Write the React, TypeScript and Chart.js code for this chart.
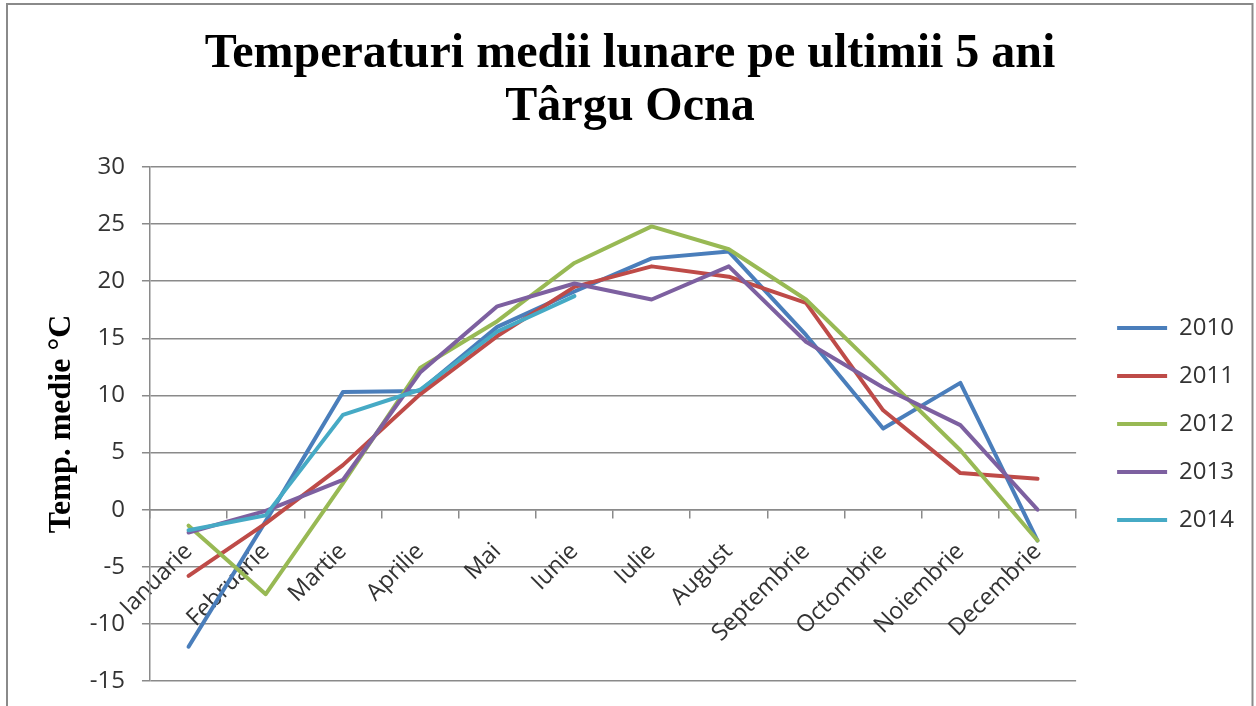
import React, { useEffect, useRef } from 'react';
import { Chart, registerables } from 'chart.js';

Chart.register(...registerables);

const months = ['Ianuarie', 'Februarie', 'Martie', 'Aprilie', 'Mai', 'Iunie', 'Iulie', 'August', 'Septembrie', 'Octombrie', 'Noiembrie', 'Decembrie'];
const seriesLabels = ['2010', '2011', '2012', '2013', '2014'];
const t2010 = [-12.0, -1.0, 10.3, 10.4, 16.0, 19.1, 22.0, 22.6, 15.3, 7.1, 11.1, -2.7];
const t2011 = [-5.8, -1.2, 3.9, 10.1, 15.2, 19.5, 21.3, 20.4, 18.1, 8.7, 3.2, 2.7];
const t2012 = [-1.4, -7.4, 2.3, 12.4, 16.5, 21.6, 24.8, 22.8, 18.4, 11.8, 5.2, -2.7];
const t2013 = [-2.0, -0.1, 2.6, 12.0, 17.8, 19.8, 18.4, 21.3, 14.7, 10.7, 7.4, 0.0];
const t2014 = [-1.8, -0.5, 8.3, 10.5, 15.6, 18.7, null, null, null, null, null, null];
const seriesColors = ['#4a7ebb', '#be4b48', '#98b954', '#7d60a0', '#46aac5'];
const titleLines = ['Temperaturi medii lunare pe ultimii 5 ani', 'Târgu Ocna'];
const yAxisTitle = 'Temp. medie °C';
const yMin = -15;
const yMax = 30;
const yStep = 5;

const SERIF = '"Liberation Serif", "Times New Roman", serif';
const SANS = '"Open Sans", "Liberation Sans", sans-serif';
const GRID = '#8a8a8a';
const TEXT = '#333333';

const framePlugin = {
  id: 'frame',
  beforeDraw(chart: any) {
    const ctx = chart.ctx;
    ctx.save();
    ctx.fillStyle = '#ffffff';
    ctx.fillRect(0, 0, chart.width, chart.height);
    ctx.strokeStyle = GRID;
    ctx.lineWidth = 2;
    ctx.strokeRect(7, 4, 1245.5, 730);
    ctx.restore();
  },
};

export default function App() {
  const ref = useRef<HTMLCanvasElement | null>(null);

  useEffect(() => {
    if (!ref.current) return;
    const allSeries = [t2010, t2011, t2012, t2013, t2014];
    const chart = new Chart(ref.current, {
      type: 'line',
      data: {
        labels: months,
        datasets: allSeries.map((d, i) => ({
          label: seriesLabels[i],
          data: d,
          borderColor: seriesColors[i],
          backgroundColor: seriesColors[i],
          borderWidth: 4,
          pointRadius: 0,
          pointHoverRadius: 0,
          tension: 0,
          borderJoinStyle: 'round' as const,
          borderCapStyle: 'round' as const,
          yAxisID: 'y',
          order: allSeries.length - i,
        })),
      },
      options: {
        responsive: false,
        animation: false,
        events: [],
        layout: { padding: { left: 16, right: 12, top: 0, bottom: 25 } },
        plugins: {
          title: {
            display: true,
            text: titleLines,
            color: '#000000',
            font: { family: SERIF, size: 48, weight: 'bold', lineHeight: 1.1 },
            padding: { top: 28, bottom: 33.4 },
          },
          legend: {
            display: true,
            position: 'right',
            align: 'center',
            fullSize: false,
            labels: {
              boxWidth: 50,
              boxHeight: 4,
              padding: 24,
              color: TEXT,
              font: { family: SANS, size: 24 },
              sort: (a: any, b: any) => a.datasetIndex - b.datasetIndex,
              generateLabels: (c: any) =>
                Chart.defaults.plugins.legend.labels.generateLabels(c).map((l: any) => ({ ...l, lineWidth: 0 })),
            },
          },
          tooltip: { enabled: false },
        },
        scales: {
          x: {
            type: 'category',
            position: { y: 0 } as any,
            offset: true,
            grid: {
              display: true,
              drawOnChartArea: false,
              drawTicks: true,
              tickLength: 8,
              offset: true,
              color: GRID,
              lineWidth: 1.5,
            },
            border: { display: true, color: GRID, width: 1.5 },
            ticks: {
              color: TEXT,
              font: { family: SANS, size: 23.5 },
              minRotation: 45,
              maxRotation: 45,
              autoSkip: false,
              padding: 20,
            },
          },
          y: {
            type: 'linear',
            position: 'left',
            min: yMin,
            max: yMax,
            grid: {
              color: GRID,
              lineWidth: 1.5,
              tickLength: 21,
              drawTicks: true,
              tickBorderDash: [0, 13, 8, 100],
            },
            border: { display: true, color: GRID, width: 1.5 },
            ticks: {
              stepSize: yStep,
              color: TEXT,
              font: { family: SANS, size: 24 },
              padding: 4,
            },
            title: {
              display: true,
              text: yAxisTitle,
              color: '#000000',
              font: { family: SERIF, size: 32, weight: 'bold', lineHeight: 1.2 },
              padding: { top: 26.8, bottom: 4.6 },
            },
          },
          gap: {
            type: 'linear',
            position: 'right',
            display: true,
            grid: { display: false, drawTicks: false },
            border: { display: false },
            ticks: { display: false },
            afterFit: (s: any) => {
              s.width = 17;
            },
          },
        },
      } as any,
      plugins: [framePlugin],
    });
    return () => chart.destroy();
  }, []);

  return (
    <div style={{ position: 'fixed', left: 0, top: 0, width: 1256, height: 706, background: '#fff' }}>
      <canvas ref={ref} width={1256} height={706} style={{ display: 'block' }} />
    </div>
  );
}
